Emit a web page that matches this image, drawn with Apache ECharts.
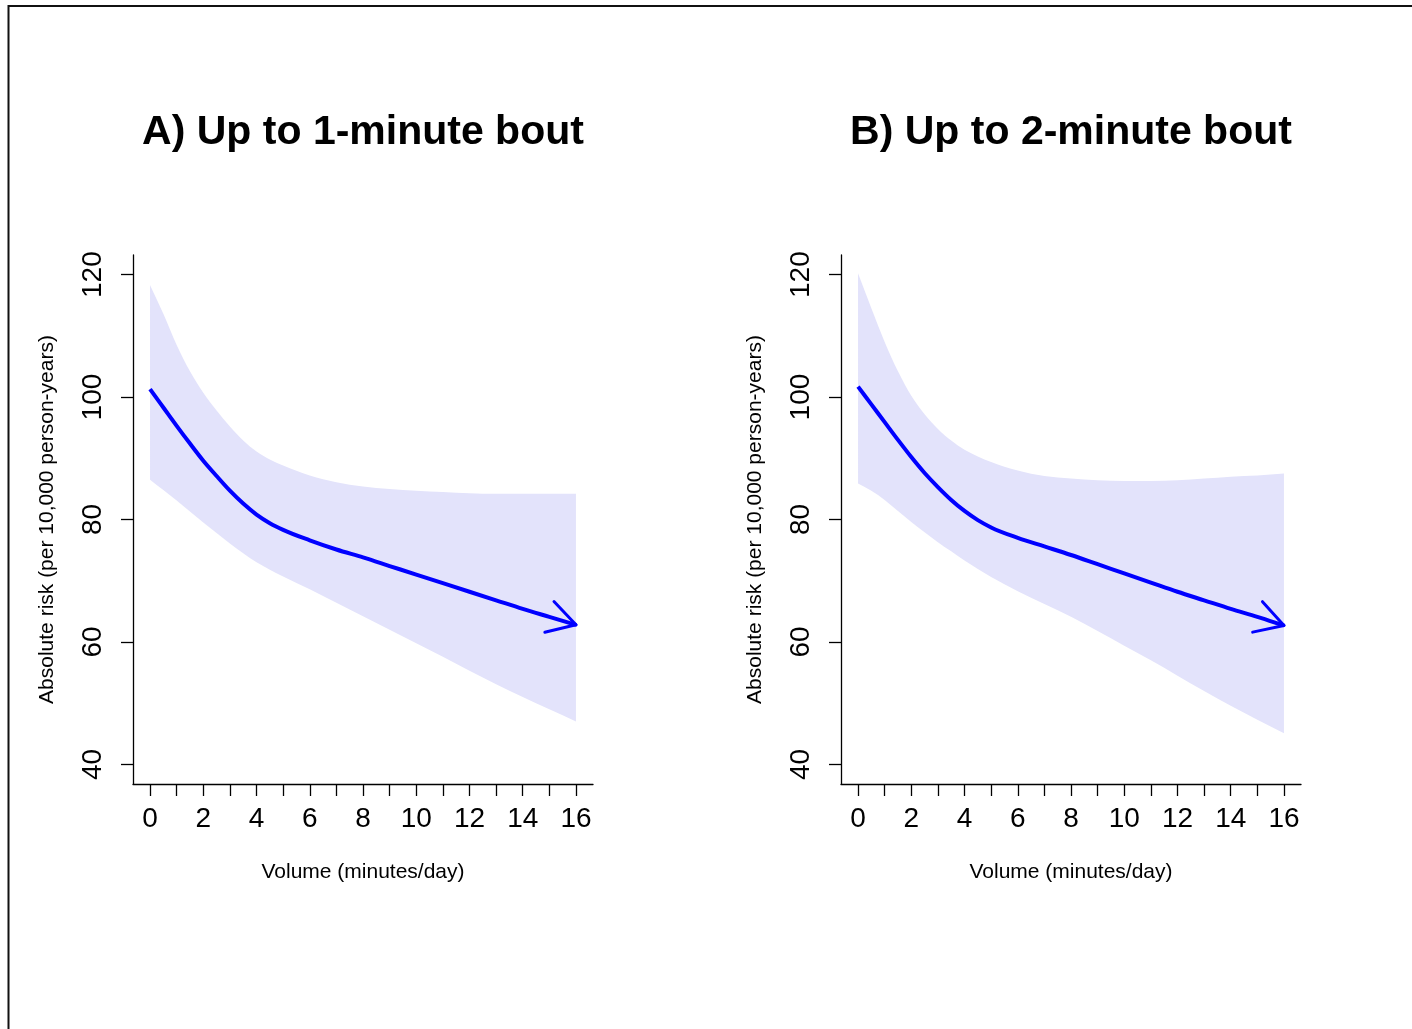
<!DOCTYPE html>
<html>
<head>
<meta charset="utf-8">
<script src="https://cdn.jsdelivr.net/npm/echarts@6/dist/echarts.min.js"></script>
<style>
html,body{margin:0;padding:0;background:#fff;}
#c{width:1412px;height:1029px;}
</style>
</head>
<body>
<div id="c"></div>
<script>
// ---- data ----
const titles = ['A) Up to 1-minute bout', 'B) Up to 2-minute bout'];
const xTitle = 'Volume (minutes/day)';
const yTitle = 'Absolute risk (per 10,000 person-years)';
const xTicks = [0,1,2,3,4,5,6,7,8,9,10,11,12,13,14,15,16];
const xTickLabels = [0,2,4,6,8,10,12,14,16];
const yTickLabels = [40,60,80,100,120];

const volume = [0,0.5,1,1.5,2,2.5,3,3.5,4,4.5,5,6,7,8,9,10,11,12,13,14,15,16];

const riskA  = [101.3,98.3,95.3,92.4,89.6,87.1,84.7,82.6,80.8,79.4,78.3,76.6,75.1,73.8,72.4,71.0,69.6,68.2,66.8,65.4,64.1,62.8];
const upperA = [118.3,113.6,108.5,104.2,100.7,97.8,95.2,92.9,91.1,89.8,88.8,87.2,86.1,85.4,85.0,84.7,84.5,84.3,84.2,84.2,84.2,84.2];
const lowerA = [86.5,84.8,83.1,81.3,79.5,77.8,76.1,74.5,73.0,71.8,70.7,68.6,66.4,64.2,62.0,59.8,57.6,55.3,53.1,51.0,49.0,47.0];

const riskB  = [101.7,98.8,95.9,93.0,90.2,87.6,85.3,83.2,81.4,79.9,78.7,77.0,75.6,74.2,72.7,71.2,69.7,68.2,66.8,65.4,64.1,62.7];
const upperB = [120.2,114.5,109.0,104.2,100.2,97.2,94.8,92.9,91.4,90.3,89.4,88.0,87.1,86.7,86.4,86.3,86.3,86.4,86.7,87.0,87.2,87.5];
const lowerB = [85.9,84.7,83.2,81.4,79.6,77.9,76.3,74.8,73.3,71.9,70.6,68.3,66.2,64.1,61.8,59.4,57.0,54.5,52.0,49.6,47.3,45.1];

// ---- styling ----
const FONT = 'Liberation Sans, Arial, sans-serif';
const BLUE = '#0000FF';
const BAND = '#E3E3FB';

const chart = echarts.init(document.getElementById('c'), null, {renderer:'canvas'});

const panels = [
  {left:133, risk:riskA, upper:upperA, lower:lowerA},
  {left:841, risk:riskB, upper:upperB, lower:lowerB}
];

// smooth cubic path through pixel points (x monotone)
function tangents(P) {
  const n = P.length, m = [], t = [];
  for (let k = 0; k < n - 1; k++) m.push((P[k+1][1]-P[k][1])/(P[k+1][0]-P[k][0]));
  for (let k = 0; k < n; k++) {
    if (k === 0) t.push(m[0]);
    else if (k === n-1) t.push(m[n-2]);
    else {
      const h0 = P[k][0]-P[k-1][0], h1 = P[k+1][0]-P[k][0];
      t.push((m[k-1]*h1 + m[k]*h0)/(h0+h1));
    }
  }
  return t;
}
function curveSegs(P, reverse) {
  const t = tangents(P);
  let s = '';
  if (!reverse) {
    for (let k = 0; k < P.length-1; k++) {
      const h = (P[k+1][0]-P[k][0])/3;
      s += ' C' + (P[k][0]+h) + ',' + (P[k][1]+t[k]*h) + ' ' + (P[k+1][0]-h) + ',' + (P[k+1][1]-t[k+1]*h) + ' ' + P[k+1][0] + ',' + P[k+1][1];
    }
  } else {
    for (let k = P.length-1; k > 0; k--) {
      const h = (P[k][0]-P[k-1][0])/3;
      s += ' C' + (P[k][0]-h) + ',' + (P[k][1]-t[k]*h) + ' ' + (P[k-1][0]+h) + ',' + (P[k-1][1]+t[k-1]*h) + ' ' + P[k-1][0] + ',' + P[k-1][1];
    }
  }
  return s;
}

const grids = [], xAxes = [], yAxes = [], series = [], graphics = [];

panels.forEach((p, i) => {
  grids.push({left:p.left, top:255, width:460, height:529, containLabel:false});
  xAxes.push({
    type:'value', gridIndex:i, min:-0.64, max:16.64,
    axisLine:{show:true, onZero:false, lineStyle:{color:'#000', width:1.3}},
    axisTick:{show:true, inside:false, length:12, customValues:xTicks, lineStyle:{color:'#000', width:1.3}},
    axisLabel:{show:true, customValues:xTickLabels, margin:21, fontSize:28, color:'#000', fontFamily:FONT},
    splitLine:{show:false},
    name:xTitle, nameLocation:'middle', nameGap:78,
    nameTextStyle:{fontSize:21, color:'#000', fontFamily:FONT}
  });
  yAxes.push({
    type:'value', gridIndex:i, min:36.8, max:123.2,
    axisLine:{show:true, onZero:false, lineStyle:{color:'#000', width:1.3}},
    axisTick:{show:true, inside:false, length:12, customValues:yTickLabels, lineStyle:{color:'#000', width:1.3}},
    axisLabel:{show:true, customValues:yTickLabels, rotate:90, margin:26, fontSize:28, color:'#000', fontFamily:FONT},
    splitLine:{show:false},
    name:yTitle, nameLocation:'middle', nameGap:75,
    nameTextStyle:{fontSize:21, color:'#000', fontFamily:FONT}
  });

  const xs = volume, lo = p.lower, hi = p.upper, rk = p.risk;
  // confidence band
  series.push({
    type:'custom', xAxisIndex:i, yAxisIndex:i, silent:true, z:1,
    data: xs.map((x, k) => [x, lo[k], hi[k]]),
    encode:{x:0, y:[1,2]},
    renderItem: function(params, api){
      if (params.dataIndex !== 0) return {type:'group', children:[]};
      const U = xs.map((x, k) => api.coord([x, hi[k]]));
      const Lw = xs.map((x, k) => api.coord([x, lo[k]]));
      let d = 'M' + U[0][0] + ',' + U[0][1] + curveSegs(U, false);
      d += ' L' + Lw[Lw.length-1][0] + ',' + Lw[Lw.length-1][1] + curveSegs(Lw, true) + ' Z';
      return {type:'path', shape:{pathData:d}, style:{fill:BAND, stroke:null}};
    }
  });
  // estimate line
  series.push({
    type:'custom', xAxisIndex:i, yAxisIndex:i, silent:true, z:3,
    data: xs.map((x, k) => [x, rk[k]]),
    encode:{x:0, y:1},
    renderItem: function(params, api){
      if (params.dataIndex !== 0) return {type:'group', children:[]};
      const P = xs.map((x, k) => api.coord([x, rk[k]]));
      const d = 'M' + P[0][0] + ',' + P[0][1] + curveSegs(P, false);
      return {type:'path', shape:{pathData:d}, style:{fill:null, stroke:BLUE, lineWidth:4, lineJoin:'round'}};
    }
  });
  // arrow head at the end of the line
  const n = xs.length;
  series.push({
    type:'custom', xAxisIndex:i, yAxisIndex:i, silent:true, z:4,
    data: [[xs[n-2], rk[n-2], xs[n-1], rk[n-1]]],
    encode:{x:[0,2], y:[1,3]},
    renderItem: function(params, api){
      const a = api.coord([api.value(0), api.value(1)]);
      const b = api.coord([api.value(2), api.value(3)]);
      const ang = Math.atan2(b[1]-a[1], b[0]-a[0]);
      const L = 32, d = Math.PI/6;
      const c1 = [b[0] - L*Math.cos(ang - d), b[1] - L*Math.sin(ang - d)];
      const c2 = [b[0] - L*Math.cos(ang + d), b[1] - L*Math.sin(ang + d)];
      return {type:'group', children:[
        {type:'line', shape:{x1:b[0], y1:b[1], x2:c1[0], y2:c1[1]}, style:{stroke:BLUE, lineWidth:3, lineCap:'round'}},
        {type:'line', shape:{x1:b[0], y1:b[1], x2:c2[0], y2:c2[1]}, style:{stroke:BLUE, lineWidth:3, lineCap:'round'}}
      ]};
    }
  });

  graphics.push({
    type:'text', x:p.left + 230, y:133, z:10,
    style:{text:titles[i], fontSize:41, fontWeight:'bold', fontFamily:FONT, fill:'#000',
           textAlign:'center', textVerticalAlign:'middle'}
  });
});

graphics.push({
  type:'rect', shape:{x:8.5, y:6, width:1600, height:1200}, z:0,
  style:{fill:null, stroke:'#111', lineWidth:2}
});

chart.setOption({
  backgroundColor:'#fff',
  animation:false,
  grid:grids, xAxis:xAxes, yAxis:yAxes, series:series,
  graphic:graphics
});
</script>
</body>
</html>
